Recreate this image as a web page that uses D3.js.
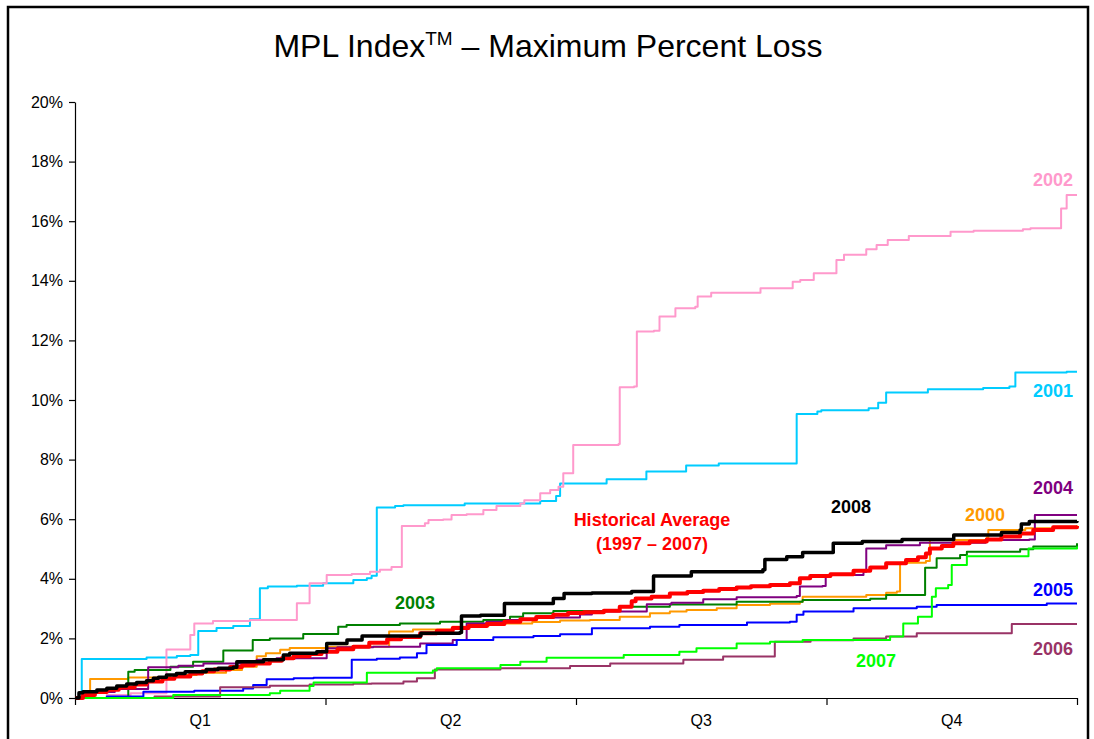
<!DOCTYPE html>
<html>

<head>
    <title>MPL Index</title>
    <script src="https://d3js.org/d3.v7.min.js"></script>
    <style>
        body { margin: 0; background: white; }
        text { font-family: Arial, "Liberation Sans", sans-serif; }
    </style>
</head>

<body>
    <script>
        // axis labels
        var quarters = ["Q1", "Q2", "Q3", "Q4"];
        var quarterBounds = [0, 63, 126, 189, 252];   // trading days
        var yTicks = [0, 2, 4, 6, 8, 10, 12, 14, 16, 18, 20];

        // each series: [trading day, max percent loss] step points
        var y2000 = [[0, 0], [3.8, 0.64], [13.4, 0.69], [24, 0.77], [30.6, 0.85], [38, 0.94], [42, 1.05], [45.7, 1.4], [48, 1.5], [51.6, 1.62], [54, 1.68], [63.7, 1.72], [79, 2.23], [85, 2.3], [95, 2.39], [99, 2.42], [104, 2.5], [115, 2.55], [122, 2.6], [129.5, 2.62], [137, 2.73], [144.6, 2.84], [149.6, 2.9], [153.8, 2.95], [161.4, 3.01], [166.4, 3.12], [174.8, 3.16], [182.3, 3.23], [183, 3.4], [199, 3.46], [204, 3.53], [206.7, 3.57], [207.5, 4.54], [214, 4.6], [215, 5.3], [229.3, 5.39], [229.7, 5.64], [239, 5.7], [246, 5.75], [252, 5.8]];
        var y2001 = [[0, 0], [1.7, 1.31], [18, 1.36], [25.6, 1.41], [29, 1.44], [31, 2.25], [35.6, 2.35], [39.8, 2.42], [44, 2.64], [46.5, 3.68], [48.5, 3.74], [55.8, 3.77], [62.4, 3.85], [70, 3.96], [73.4, 4.02], [74.6, 4.1], [75.9, 6.39], [80.5, 6.44], [82.6, 6.47], [98, 6.53], [117, 6.61], [121, 6.78], [122, 7.2], [133.7, 7.34], [143.7, 7.6], [153.7, 7.8], [161.9, 7.87], [181.5, 9.53], [186.7, 9.61], [187.7, 9.66], [199.6, 9.72], [202, 9.91], [204, 10.25], [214.5, 10.36], [228.4, 10.4], [235, 10.45], [236.5, 10.92], [249.4, 10.95], [252, 10.95]];
        var y2002 = [[0, 0], [8, 0.1], [14, 0.16], [23, 1.63], [29, 2.11], [30, 2.5], [34.7, 2.58], [44, 2.62], [55.8, 3.18], [59, 3.85], [63.3, 4.13], [69.6, 4.16], [74.2, 4.24], [76.7, 4.3], [79.6, 4.4], [82.2, 5.77], [88, 5.86], [88.9, 5.97], [92.6, 5.99], [94.7, 6.14], [98.5, 6.17], [102.7, 6.31], [106, 6.44], [112, 6.53], [113, 6.64], [117, 6.87], [119.5, 6.98], [121.6, 7.09], [122.8, 7.54], [125.3, 8.49], [136.7, 8.52], [137, 10.43], [140.6, 10.45], [141.3, 12.3], [145.6, 12.32], [147, 12.8], [151, 13.08], [156, 13.13], [156.6, 13.47], [160, 13.6], [172.4, 13.75], [180.5, 13.97], [182.4, 14.03], [185.8, 14.25], [191.5, 14.7], [193.4, 14.87], [199, 15.06], [201.6, 15.2], [204.4, 15.37], [209.7, 15.5], [220.2, 15.65], [226, 15.68], [238.4, 15.73], [240.3, 15.76], [248, 16.43], [249.4, 16.88], [252, 16.88]];
        var y2003 = [[0, 0], [13.4, 0.88], [15, 0.94], [24, 1.05], [29.7, 1.22], [37.3, 1.59], [44.7, 1.95], [49, 2.0], [57.4, 2.15], [66.2, 2.39], [68.3, 2.45], [81.7, 2.5], [91.8, 2.56], [102.7, 2.62], [109.4, 2.73], [112.7, 2.84], [120.3, 2.92], [137, 3.06], [149.6, 3.14], [166.4, 3.23], [183, 3.29], [200, 3.33], [204, 3.46], [213.8, 4.37], [216.7, 4.69], [222.6, 4.8], [224.3, 4.91], [237.7, 4.99], [241, 5.08], [252, 5.19]];
        var y2004 = [[0, 0], [3, 0.2], [10, 0.3], [18.4, 1.03], [26, 1.08], [32.3, 1.16], [45.7, 1.28], [50.7, 1.33], [63.3, 1.67], [66, 1.7], [75, 1.72], [86.8, 1.83], [95, 1.95], [98.5, 2.5], [103.5, 2.56], [108.6, 2.62], [116, 2.7], [127, 2.8], [130, 2.9], [143.8, 3.15], [150, 3.2], [158, 3.31], [166.4, 3.38], [181.5, 3.42], [182.3, 3.74], [188, 3.76], [188.8, 4.13], [198.3, 4.24], [199, 5.02], [204, 5.13], [212.5, 5.21], [229, 5.3], [240, 5.32], [241.4, 6.14], [252, 6.14]];
        var y2005 = [[0, 0], [8, 0.05], [17.2, 0.21], [30, 0.24], [42.3, 0.32], [44.8, 0.44], [48.2, 0.63], [55, 0.66], [60, 0.68], [69.6, 1.28], [75.9, 1.32], [81.7, 1.36], [86, 1.5], [88.4, 1.78], [96, 1.95], [105.2, 2.04], [115.3, 2.08], [122, 2.14], [130, 2.34], [144.6, 2.39], [152, 2.45], [169, 2.53], [179.8, 2.56], [181.5, 2.79], [183.2, 2.9], [195.8, 3.01], [211.7, 3.06], [216.7, 3.12], [244.4, 3.17], [252, 3.17]];
        var y2006 = [[0, 0], [20, 0.05], [36.5, 0.36], [49, 0.41], [59, 0.45], [70, 0.48], [74.6, 0.49], [82.6, 0.55], [86, 0.66], [90.5, 0.96], [107, 1.0], [124.5, 1.07], [134.6, 1.16], [153, 1.28], [163, 1.39], [176, 1.89], [185, 1.94], [195.8, 2.0], [204, 2.06], [211.7, 2.17], [235.6, 2.48], [252, 2.48]];
        var y2007 = [[0, 0], [24.7, 0.1], [49, 0.16], [51.6, 0.24], [59, 0.4], [60, 0.52], [73.4, 0.85], [90, 0.92], [91, 1.0], [107, 1.11], [112, 1.22], [118.6, 1.35], [138, 1.44], [152, 1.55], [156.3, 1.67], [166.4, 1.83], [174.8, 1.89], [183, 1.95], [205, 2.06], [208.3, 2.5], [212, 2.73], [215.5, 3.4], [216.5, 3.68], [219.6, 3.79], [220.5, 4.46], [224.3, 4.76], [239.8, 5.02], [252, 5.08]];
        var y2008 = [[0, 0], [1, 0.18], [2, 0.21], [5.5, 0.27], [8, 0.33], [10.5, 0.4], [13, 0.47], [15.5, 0.52], [18, 0.58], [19.7, 0.66], [21, 0.7], [23, 0.77], [25.5, 0.82], [27.7, 0.88], [33, 0.96], [36, 1.0], [39.8, 1.03], [40.7, 1.22], [47.4, 1.28], [52.4, 1.44], [54, 1.5], [60.8, 1.55], [63.3, 1.83], [68.4, 1.95], [72.2, 2.08], [87, 2.17], [96.8, 2.2], [97.2, 2.75], [102, 2.78], [108, 3.17], [120.3, 3.34], [123, 3.51], [130, 3.52], [140, 3.57], [145.5, 4.09], [155, 4.24], [173, 4.3], [173.5, 4.65], [179, 4.74], [183, 4.88], [190.7, 5.19], [198, 5.25], [208, 5.32], [221, 5.47], [233, 5.55], [237.7, 5.64], [238, 5.84], [240, 5.92], [252, 5.94]];
        var yAverage = [[0, 0], [2, 0.1], [5, 0.2], [8, 0.28], [11, 0.35], [15, 0.45], [18, 0.55], [22, 0.65], [25, 0.72], [29, 0.82], [32, 0.9], [35, 0.96], [39, 1.04], [42, 1.1], [45, 1.16], [49, 1.25], [52, 1.33], [55, 1.4], [59, 1.48], [62, 1.55], [66, 1.64], [70, 1.72], [74, 1.85], [78.5, 1.97], [82, 2.05], [86.8, 2.17], [91, 2.26], [95, 2.35], [99, 2.42], [103.6, 2.48], [108, 2.56], [112, 2.64], [116, 2.72], [120.3, 2.79], [124, 2.85], [128, 2.88], [133, 2.93], [137, 3.06], [140, 3.25], [141, 3.34], [145, 3.4], [149.6, 3.51], [154, 3.56], [158, 3.6], [162, 3.66], [166.4, 3.71], [170, 3.75], [174.8, 3.79], [179.8, 3.85], [182.3, 4.02], [184.9, 4.09], [190, 4.15], [195.8, 4.27], [200, 4.38], [204, 4.52], [209, 4.63], [212, 4.72], [214, 4.85], [215, 5.02], [218, 5.1], [220.9, 5.19], [225, 5.25], [229.3, 5.32], [233, 5.42], [237.7, 5.52], [241, 5.64], [246, 5.73], [252, 5.77]];

        // drawing order: years first, then the average, then 2008 on top
        var series = [
            { name: "2000", data: y2000, color: "#FF9900", width: 2, label: [985, 521] },
            { name: "2001", data: y2001, color: "#00CCFF", width: 2, label: [1053, 397] },
            { name: "2002", data: y2002, color: "#FF99CC", width: 2, label: [1053, 186] },
            { name: "2003", data: y2003, color: "#008000", width: 2, label: [415, 609] },
            { name: "2004", data: y2004, color: "#800080", width: 2, label: [1053, 494] },
            { name: "2005", data: y2005, color: "#0000FF", width: 2, label: [1053, 596] },
            { name: "2006", data: y2006, color: "#993366", width: 2, label: [1053, 655] },
            { name: "2007", data: y2007, color: "#00FF00", width: 2, label: [876, 667] },
            { name: "avg", data: yAverage, color: "#FF0000", width: 4, label: null },
            { name: "2008", data: y2008, color: "#000000", width: 3.5, label: [851, 513] }
        ];

        var width = 1094, height = 739;

        var svg = d3.select("body")
            .append("svg")
            .attr("width", width)
            .attr("height", height);

        // outer frame (bottom edge falls outside the picture)
        svg.append("rect")
            .attr("x", 8)
            .attr("y", 7)
            .attr("width", 1080)
            .attr("height", 760)
            .attr("fill", "white")
            .attr("stroke", "black")
            .attr("stroke-width", 2.5);

        // title with superscript TM
        var title = svg.append("text")
            .attr("x", 548)
            .attr("y", 57)
            .attr("text-anchor", "middle")
            .style("font-size", "32px");
        title.append("tspan").text("MPL Index");
        title.append("tspan").attr("dy", -12).style("font-size", "19px").text("TM");
        title.append("tspan").attr("dy", 12).text(" \u2013 Maximum Percent Loss");

        var x = d3.scaleLinear()
            .domain([0, 252])
            .range([75, 1077]);

        var y = d3.scaleLinear()
            .domain([0, 20])
            .range([698, 102]);

        // Y axis
        var yAxis = svg.append("g")
            .attr("transform", "translate(75,0)")
            .call(d3.axisLeft(y)
                .tickValues(yTicks)
                .tickFormat(function (d) { return d + "%"; })
                .tickSize(6)
                .tickSizeOuter(0)
                .tickPadding(6));
        yAxis.selectAll("text")
            .style("font-size", "16px")
            .style("font-family", "Arial, 'Liberation Sans', sans-serif")
            .attr("fill", "black");
        yAxis.selectAll("line, path").attr("stroke", "black").attr("stroke-width", 1.2);

        // X axis: tick at each quarter boundary, labels in between
        var xAxis = svg.append("g")
            .attr("transform", "translate(0,698)")
            .call(d3.axisBottom(x)
                .tickValues(quarterBounds)
                .tickFormat("")
                .tickSize(7)
                .tickSizeOuter(0));
        xAxis.selectAll("line, path").attr("stroke", "black").attr("stroke-width", 1.2);

        svg.selectAll(".qlabel")
            .data(quarters)
            .enter()
            .append("text")
            .attr("class", "qlabel")
            .attr("x", function (d, i) { return x((quarterBounds[i] + quarterBounds[i + 1]) / 2); })
            .attr("y", 726)
            .attr("text-anchor", "middle")
            .style("font-size", "16px")
            .text(function (d) { return d; });

        var line = d3.line()
            .x(function (d) { return x(d[0]); })
            .y(function (d) { return y(d[1]); })
            .curve(d3.curveStepAfter);

        svg.selectAll(".series")
            .data(series)
            .enter()
            .append("path")
            .attr("class", "series")
            .attr("fill", "none")
            .attr("stroke", function (d) { return d.color; })
            .attr("stroke-width", function (d) { return d.width; })
            .attr("stroke-linejoin", "round")
            .attr("d", function (d) { return line(d.data); });

        // year labels
        svg.selectAll(".ylabel")
            .data(series.filter(function (d) { return d.label; }))
            .enter()
            .append("text")
            .attr("class", "ylabel")
            .attr("x", function (d) { return d.label[0]; })
            .attr("y", function (d) { return d.label[1]; })
            .attr("text-anchor", "middle")
            .attr("fill", function (d) { return d.color; })
            .style("font-size", "18px")
            .style("font-weight", "bold")
            .text(function (d) { return d.name; });

        // historical average label
        svg.append("text")
            .attr("x", 652)
            .attr("y", 526)
            .attr("text-anchor", "middle")
            .attr("fill", "#FF0000")
            .style("font-size", "18px")
            .style("font-weight", "bold")
            .text("Historical Average");
        svg.append("text")
            .attr("x", 652)
            .attr("y", 550)
            .attr("text-anchor", "middle")
            .attr("fill", "#FF0000")
            .style("font-size", "18px")
            .style("font-weight", "bold")
            .text("(1997 \u2013 2007)");
    </script>
</body>

</html>
